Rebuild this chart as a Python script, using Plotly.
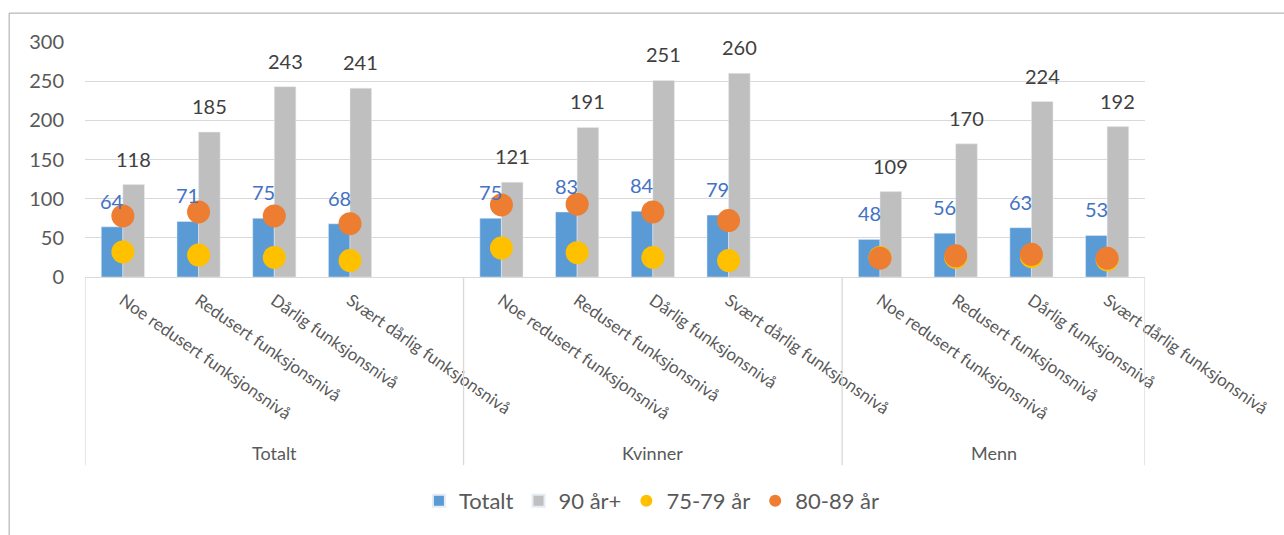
import plotly.graph_objects as go

# Data
groups = ["Totalt", "Kvinner", "Menn"]
levels = [
    "Noe redusert funksjonsnivå",
    "Redusert funksjonsnivå",
    "Dårlig funksjonsnivå",
    "Svært dårlig funksjonsnivå",
]
totalt = [64, 71, 75, 68, 75, 83, 84, 79, 48, 56, 63, 53]
age_90 = [118, 185, 243, 241, 121, 191, 251, 260, 109, 170, 224, 192]
age_75_79 = [32, 28, 25, 21, 37, 31, 25, 21, 25, 25, 26, 22]
age_80_89 = [78, 83, 78, 68, 92, 93, 83, 72, 24, 27, 29, 24]
y_ticks = [0, 50, 100, 150, 200, 250, 300]

# Layout helpers: each group gets 5 slots (last one empty), except the final group
SLOTS = 5
positions = [g * SLOTS + k for g in range(len(groups)) for k in range(len(levels))]
tick_text = [levels[k] for g in range(len(groups)) for k in range(len(levels))]
n_slots = SLOTS * (len(groups) - 1) + len(levels)

BARGAP = 0.43
half = (1 - BARGAP) / 4  # offset of each bar centre from the slot centre

FONT = "Lato"
GREY_TXT = "#595959"

fig = go.Figure()
fig.add_trace(go.Bar(x=positions, y=totalt, name="Totalt", marker_color="#5B9BD5"))
fig.add_trace(go.Bar(x=positions, y=age_90, name="90 år+", marker_color="#BFBFBF"))
fig.add_trace(go.Scatter(x=positions, y=age_75_79, name="75-79 år", mode="markers",
                         marker=dict(size=23, color="#FFC000")))
fig.add_trace(go.Scatter(x=positions, y=age_80_89, name="80-89 år", mode="markers",
                         marker=dict(size=23, color="#ED7D31")))

annotations = []
for p, v in zip(positions, totalt):
    annotations.append(dict(x=p - half, y=v, xref="x", yref="y", text=str(v), showarrow=False,
                            yanchor="middle", yshift=26,
                            font=dict(family=FONT, size=20, color="#4472C4")))
for p, v in zip(positions, age_90):
    annotations.append(dict(x=p + half, y=v, xref="x", yref="y", text=str(v), showarrow=False,
                            yanchor="middle", yshift=26,
                            font=dict(family=FONT, size=20, color="#404040")))

# Group labels and dividers below the axis
plot_h = 236
bounds = [-0.5]
for g in range(len(groups)):
    start = g * SLOTS - 0.5
    end = start + (SLOTS if g < len(groups) - 1 else len(levels))
    bounds.append(end)
    annotations.append(dict(x=(start + end) / 2, y=-177 / plot_h, xref="x", yref="paper",
                            text=groups[g], showarrow=False, yanchor="middle",
                            font=dict(family=FONT, size=18, color=GREY_TXT)))

shapes = []
for b in bounds:
    shapes.append(dict(type="line", xref="x", yref="paper", x0=b, x1=b, y0=0, y1=-189 / plot_h,
                       line=dict(color="#d9d9d9", width=1.3)))

# Outer chart border
plot_w = 1062
shapes.append(dict(type="rect", xref="paper", yref="paper",
                   x0=(9 - 85) / plot_w, x1=(1295 - 85) / plot_w,
                   y0=(278 - 545) / plot_h, y1=(278 - 13) / plot_h,
                   line=dict(color="#a6a6a6", width=1), fillcolor="rgba(0,0,0,0)", layer="below"))

fig.update_layout(
    width=1284, height=535,
    margin=dict(l=85, r=137, t=42, b=257),
    paper_bgcolor="white", plot_bgcolor="white",
    barmode="group", bargap=BARGAP, bargroupgap=0,
    font=dict(family=FONT, color=GREY_TXT),
    annotations=annotations, shapes=shapes,
    legend=dict(orientation="h", x=(653 - 85) / plot_w, xanchor="center",
                y=(278 - 503) / plot_h, yanchor="middle",
                font=dict(family=FONT, size=22, color=GREY_TXT),
                itemsizing="constant", bgcolor="rgba(0,0,0,0)"),
    showlegend=True,
)
fig.update_yaxes(range=[0, 300], tickvals=y_ticks, showgrid=True, gridcolor="#d9d9d9", gridwidth=1.3,
                 zeroline=False, showline=False, ticks="", ticklabelstandoff=20,
                 tickfont=dict(family=FONT, size=20, color=GREY_TXT))
fig.update_xaxes(range=[-0.5, n_slots - 0.5], tickvals=positions, ticktext=tick_text, tickangle=35,
                 showgrid=False, zeroline=False, showline=True, linecolor="#d9d9d9", linewidth=1.3,
                 ticks="", ticklabelstandoff=6, tickfont=dict(family=FONT, size=17, color=GREY_TXT))

fig.write_html("out.html")
